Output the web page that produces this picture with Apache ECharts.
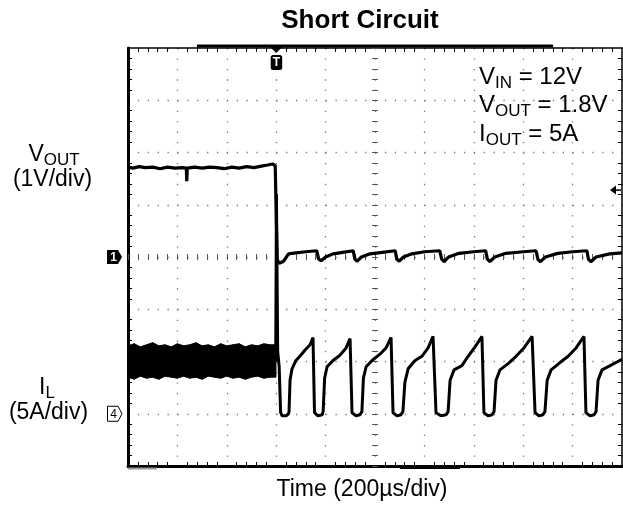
<!DOCTYPE html>
<html><head><meta charset="utf-8">
<script src="https://cdn.jsdelivr.net/npm/echarts@6/dist/echarts.min.js"></script>
<style>html,body{margin:0;padding:0;background:#fff}#c{width:623px;height:506px}</style>
</head><body><div id="c"></div>
<script>
// ---- data (time in µs, VOUT in V, IL in A) ----
const timeRange = [0, 2000];          // 10 div x 200 µs
const voutRange = [-4, 4];            // 1 V/div, CH1 ground at centre
const ilRange = [-5, 35];             // 5 A/div, CH4 ground 3 div below centre
const triggerTime = 600;              // trigger marker position (µs)
const triggerLevel = 1.28;            // trigger level arrow (V)

const vout = [
  [0,1.72],[20,1.70],[45,1.73],[70,1.71],[100,1.72],[130,1.69],[160,1.72],[190,1.70],[220,1.71],
  [236,1.70],[238,1.45],[240,1.70],[270,1.72],[300,1.70],[330,1.72],[360,1.71],[390,1.69],[420,1.72],
  [450,1.70],[480,1.73],[510,1.71],[540,1.74],[565,1.76],[585,1.78],[596,1.75],[600,1.72],
  [604,-0.05],[612,-0.12],[630,-0.08],[650,0.06],[680,0.08],[720,0.10],[764,0.12],[772,-0.04],[782,-0.07],
  [800,0.0],[830,0.06],[870,0.09],[912,0.12],[918,-0.04],[928,-0.08],[945,0.0],[980,0.06],[1030,0.09],
  [1082,0.12],[1088,-0.04],[1098,-0.08],[1115,0.0],[1150,0.06],[1200,0.10],[1262,0.12],[1270,-0.04],
  [1280,-0.09],[1298,0.0],[1340,0.07],[1400,0.10],[1448,0.12],[1455,-0.04],[1465,-0.09],[1485,0.0],
  [1530,0.07],[1600,0.10],[1652,0.12],[1660,-0.05],[1670,-0.09],[1690,0.0],[1740,0.07],[1800,0.10],
  [1858,0.12],[1864,-0.04],[1874,-0.09],[1895,0.0],[1950,0.06],[2000,0.08]
];

// inductor current before the short: lower and upper edges of the ripple band
const ilBandLow = [
  [0,3.5],[25,3.3],[50,3.6],[75,3.4],[100,3.5],[125,3.3],[150,3.6],[175,3.5],[200,3.4],[225,3.6],
  [250,3.4],[275,3.5],[300,3.3],[325,3.6],[350,3.5],[375,3.4],[400,3.6],[425,3.4],[450,3.5],
  [475,3.3],[500,3.5],[525,3.6],[550,3.4],[575,3.5],[599,3.5]
];
const ilBandHigh = [
  [0,6.5],[25,6.7],[50,6.4],[75,6.6],[100,6.8],[125,6.5],[150,6.6],[175,6.4],[200,6.7],[225,6.5],
  [250,6.6],[275,6.8],[300,6.5],[325,6.6],[350,6.4],[375,6.7],[400,6.5],[425,6.6],[450,6.7],
  [475,6.4],[500,6.6],[525,6.5],[550,6.7],[575,6.6],[599,6.6]
];

// inductor current after the short (hiccup pulses)
const ilAfter = [
  [598,5.0],[601,21.0],[606,6.0],[612,4.5],[618,0.1],[624,-0.2],[640,-0.2],[650,0.0],
  [652,0.2],[656,3.2],[664,4.3],[680,5.1],[696,5.5],[717,6.1],[737,6.6],[749,7.3],[755,0.1],[769,-0.2],[786,-0.1],
  [790,0.2],[796,3.4],[806,4.5],[830,5.1],[858,5.6],[883,6.3],[899,7.2],[907,0.1],[923,-0.2],[939,-0.1],
  [947,0.2],[953,3.4],[964,4.5],[988,5.1],[1020,5.7],[1045,6.3],[1065,7.3],[1073,0.1],[1089,-0.2],[1105,-0.1],
  [1113,0.2],[1121,3.0],[1134,4.3],[1162,5.1],[1190,5.5],[1215,6.3],[1235,7.4],[1247,0.1],[1267,-0.2],[1288,-0.1],
  [1296,0.2],[1304,3.2],[1320,4.2],[1352,4.6],[1377,5.5],[1405,6.4],[1433,7.4],[1441,0.1],[1458,-0.2],[1474,-0.1],
  [1482,0.2],[1490,3.2],[1506,4.2],[1539,4.8],[1571,5.5],[1603,6.3],[1636,7.4],[1648,0.1],[1664,-0.2],[1680,-0.1],
  [1688,0.2],[1697,3.2],[1713,4.2],[1749,4.9],[1782,5.5],[1814,6.3],[1846,7.4],[1854,0.1],[1871,-0.2],[1887,-0.1],
  [1895,0.2],[1903,3.2],[1919,4.2],[1952,4.6],[1976,4.9],[2000,5.2]
];

// ---- chart ----
const FF = '"Liberation Sans", Arial, Helvetica, sans-serif';
const bandRows = ilBandLow.map((p, i) => [p[0], p[1], ilBandHigh[i][1]]);
const chart = echarts.init(document.getElementById('c'), null, {renderer: 'canvas'});
const dotX = {color: '#7a7a7a', width: 1.3, type: [1.3, 9.15]};   // vertical dotted lines
const dotY = {color: '#7a7a7a', width: 1.3, type: [1.3, 8.58]};   // horizontal dotted lines
const noLabel = {show: false};
const tickMinor = len => ({show: true, splitNumber: 5, length: len, lineStyle: {color: '#000', width: 1}});

chart.setOption({
  animation: false,
  backgroundColor: '#fff',
  grid: {left: 128, right: 1, top: 48, bottom: 40, outerBoundsMode: 'none', containLabel: false},
  xAxis: [
    {type: 'value', min: timeRange[0], max: timeRange[1], interval: 200, position: 'bottom',
     axisLine: {show: true, onZero: false, lineStyle: {color: '#000', width: 3}},
     axisTick: {show: false, inside: true}, minorTick: tickMinor(4), axisLabel: noLabel,
     splitLine: {show: true, lineStyle: dotX}},
    {type: 'value', min: timeRange[0], max: timeRange[1], interval: 200, position: 'top',
     axisLine: {show: true, onZero: false, lineStyle: {color: '#000', width: 1.5}},
     axisTick: {show: false, inside: true}, minorTick: tickMinor(4), axisLabel: noLabel,
     splitLine: {show: false}},
    {type: 'value', min: timeRange[0], max: timeRange[1], interval: 200, position: 'bottom', offset: -206,
     axisLine: {show: false, onZero: false},
     axisTick: {show: true, inside: true, length: 6, lineStyle: {color: '#555', width: 1}},
     minorTick: {show: true, splitNumber: 5, length: 6, lineStyle: {color: '#555', width: 1}},
     axisLabel: noLabel, splitLine: {show: false}}
  ],
  yAxis: [
    {type: 'value', min: voutRange[0], max: voutRange[1], interval: 1, position: 'left',
     axisLine: {show: true, onZero: false, lineStyle: {color: '#000', width: 3}},
     axisTick: {show: false, inside: true}, minorTick: tickMinor(4), axisLabel: noLabel,
     splitLine: {show: true, lineStyle: dotY}},
    {type: 'value', min: ilRange[0], max: ilRange[1], interval: 5, position: 'right',
     axisLine: {show: true, onZero: false, lineStyle: {color: '#000', width: 1.5}},
     axisTick: {show: false, inside: true}, minorTick: tickMinor(4), axisLabel: noLabel,
     splitLine: {show: false}},
    {type: 'value', min: voutRange[0], max: voutRange[1], interval: 1, position: 'left', offset: -244,
     axisLine: {show: false, onZero: false},
     axisTick: {show: true, inside: true, length: 6, lineStyle: {color: '#555', width: 1}},
     minorTick: {show: true, splitNumber: 5, length: 6, lineStyle: {color: '#555', width: 1}},
     axisLabel: noLabel, splitLine: {show: false}}
  ],
  series: [
    {name: 'IL ripple band', type: 'custom', xAxisIndex: 0, yAxisIndex: 1, data: bandRows,
     encode: {x: 0, y: [1, 2]},
     renderItem: function (params, api) {
       const i = params.dataIndex;
       if (i === 0) return null;
       const p = bandRows[i - 1], c = bandRows[i];
       return {type: 'polygon',
         shape: {points: [api.coord([p[0], p[1]]), api.coord([c[0], c[1]]), api.coord([c[0], c[2]]), api.coord([p[0], p[2]])]},
         style: {fill: '#000', stroke: '#000', lineWidth: 1}};
     }},
    {name: 'IL', type: 'line', xAxisIndex: 0, yAxisIndex: 1, data: ilAfter,
     symbol: 'none', lineStyle: {color: '#000', width: 3}},
    {name: 'VOUT', type: 'line', xAxisIndex: 0, yAxisIndex: 0, data: vout,
     symbol: 'none', lineStyle: {color: '#000', width: 3.2}}
  ]
});

// ---- decorations (positions taken through the axes) ----
const X = t => chart.convertToPixel({xAxisIndex: 0}, t);
const YV = v => chart.convertToPixel({yAxisIndex: 0}, v);
const YI = a => chart.convertToPixel({yAxisIndex: 1}, a);
const L = X(timeRange[0]), R = X(timeRange[1]), T = YV(voutRange[1]), B = YV(voutRange[0]);

function txt(text, x, y, size, opts) {
  return {type: 'text', z: 100, style: Object.assign({text: text, x: x, y: y, font: (opts && opts.bold ? 'bold ' : '') + size + 'px ' + FF,
    fill: '#000', align: 'center', verticalAlign: 'middle', textAlign: 'center', textVerticalAlign: 'middle'}, opts && opts.style)};
}
function rich(text, x, y, main, sub, align) {
  return {type: 'text', z: 100, style: {text: text, x: x, y: y, align: align, textAlign: align,
    verticalAlign: 'middle', textVerticalAlign: 'middle',
    rich: {
      m: {fontSize: main, fontFamily: FF, lineHeight: Math.round(main * 1.17), fill: '#000'},
      s: {fontSize: sub, fontFamily: FF, lineHeight: 16, verticalAlign: 'bottom', fill: '#000'}
    }}};
}
const xt = X(triggerTime), y1 = YV(0), y4 = YI(0), yl = YV(triggerLevel);
const elems = [
  // top record bar and bottom bars
  {type: 'rect', z: 90, shape: {x: X(279), y: T - 3.5, width: X(1721) - X(279), height: 3}, style: {fill: '#000'}},
  {type: 'rect', z: 90, shape: {x: X(1101), y: B + 1, width: X(1344) - X(1101), height: 2}, style: {fill: '#000'}},
  {type: 'rect', z: 90, shape: {x: L, y: B + 1.5, width: X(117) - L, height: 2}, style: {fill: '#999'}},
  // trigger marker
  {type: 'polygon', z: 95, shape: {points: [[xt - 6, T - 1], [xt + 6, T - 1], [xt, T + 5]]}, style: {fill: '#000'}},
  {type: 'rect', z: 95, shape: {x: xt - 5.5, y: T + 7, width: 11.5, height: 15, r: 2.5}, style: {fill: '#000'}},
  txt('T', xt + 0.3, T + 14.8, 12, {bold: true, style: {fill: '#fff'}}),
  // channel 1 ground marker
  {type: 'polygon', z: 95, shape: {points: [[L - 21, y1 - 7], [L - 10, y1 - 7], [L - 6, y1], [L - 10, y1 + 7], [L - 21, y1 + 7]]}, style: {fill: '#000'}},
  txt('1', L - 14.5, y1 + 0.5, 12, {bold: true, style: {fill: '#fff'}}),
  // channel 4 ground marker
  {type: 'polygon', z: 95, shape: {points: [[L - 20.5, y4 - 7.5], [L - 10, y4 - 7.5], [L - 6, y4], [L - 10, y4 + 7.5], [L - 20.5, y4 + 7.5]]}, style: {fill: '#fff', stroke: '#000', lineWidth: 1}},
  txt('4', L - 14.5, y4 + 0.5, 12, {style: {fill: '#000'}}),
  // trigger level arrow
  {type: 'polygon', z: 95, shape: {points: [[R - 12, yl], [R - 6, yl - 4.5], [R - 6, yl + 4.5]]}, style: {fill: '#000'}},
  {type: 'line', z: 95, shape: {x1: R - 7, y1: yl, x2: R - 1, y2: yl}, style: {stroke: '#000', lineWidth: 1.5}},
  // texts
  txt('Short Circuit', 360, 21, 26, {bold: true}),
  txt('Time (200µs/div)', 362, 490, 23),
  rich('{m|V}{s|IN}{m| = 12V}', 479, 77.6, 24, 17, 'left'),
  rich('{m|V}{s|OUT}{m| = 1.8V}', 479, 105.6, 24, 17, 'left'),
  rich('{m|I}{s|OUT}{m| = 5A}', 479, 134.6, 24, 17, 'left'),
  rich('{m|V}{s|OUT}', 54, 155, 23, 17, 'center'),
  txt('(1V/div)', 52.5, 180, 23),
  rich('{m|I}{s|L}', 47, 388, 23, 17, 'center'),
  txt('(5A/div)', 48.5, 413, 23)
];
chart.setOption({graphic: {elements: elems}});
</script>
</body></html>
